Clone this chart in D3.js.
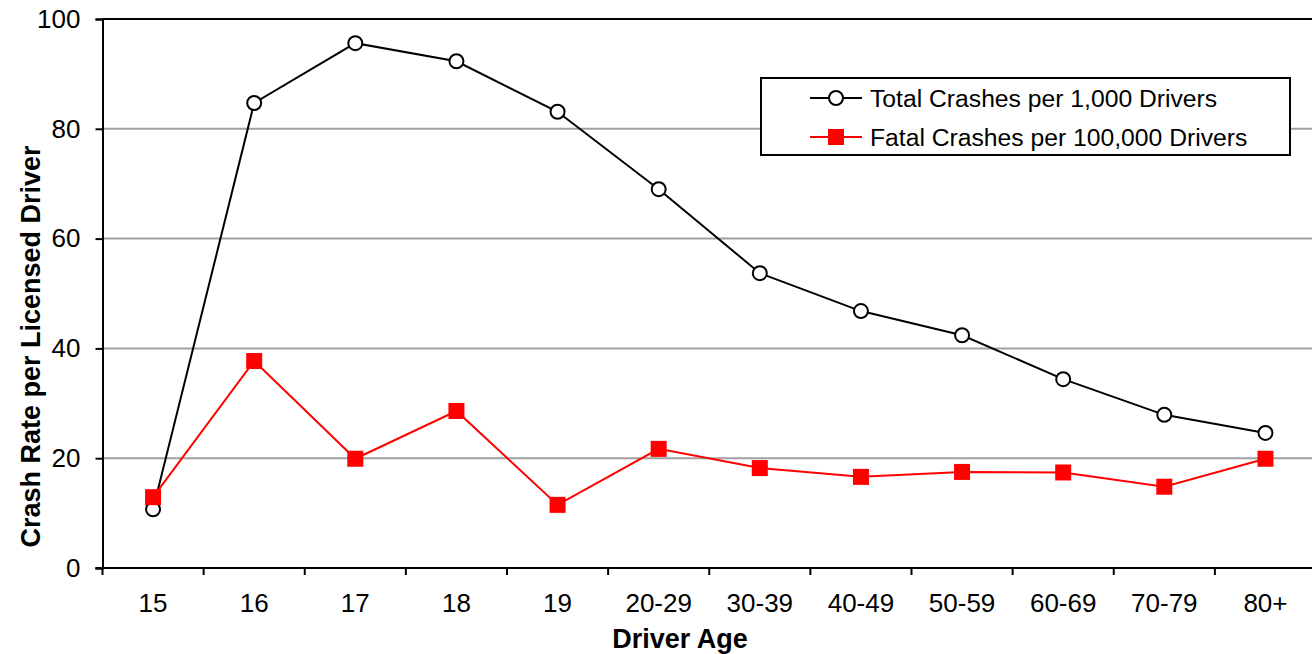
<!DOCTYPE html>
<html lang="en">
<head>
    <meta charset="UTF-8">
    <script src="https://d3js.org/d3.v7.min.js"></script>
    <style>
        body {
            margin: 0;
            padding: 0;
            background-color: #ffffff;
            font-family: 'Liberation Sans', Arial, sans-serif;
        }
        svg {
            display: block;
        }
        .tick-label {
            font-size: 26px;
            fill: #000000;
        }
        .axis-title {
            font-size: 27px;
            font-weight: bold;
            fill: #000000;
        }
        .legend-text {
            font-size: 24.7px;
            fill: #000000;
        }
    </style>
</head>
<body>
    <svg id="chart"></svg>

    <script>
        // Data for the chart
        const ages = ["15", "16", "17", "18", "19", "20-29", "30-39", "40-49", "50-59", "60-69", "70-79", "80+"];
        const totalCrashes = [10.7, 84.7, 95.6, 92.3, 83.1, 69.0, 53.7, 46.8, 42.4, 34.4, 27.9, 24.6];
        const fatalCrashes = [12.9, 37.7, 19.9, 28.6, 11.5, 21.7, 18.2, 16.6, 17.5, 17.4, 14.8, 19.9];
        const yTicks = [0, 20, 40, 60, 80, 100];
        const seriesNames = ["Total Crashes per 1,000 Drivers", "Fatal Crashes per 100,000 Drivers"];

        const width = 1312;
        const height = 654;
        const margin = { top: 19, right: -4, bottom: 86, left: 102.5 };

        const svg = d3.select("#chart")
            .attr("width", width)
            .attr("height", height);

        const x = d3.scaleBand()
            .domain(ages)
            .range([margin.left, width - margin.right])
            .padding(0);

        const y = d3.scaleLinear()
            .domain([0, 100])
            .range([height - margin.bottom, margin.top]);

        // Gridlines
        svg.append("g")
            .selectAll("line")
            .data(yTicks.filter(d => d > 0 && d < 100))
            .enter()
            .append("line")
            .attr("x1", margin.left)
            .attr("x2", width)
            .attr("y1", d => y(d))
            .attr("y2", d => y(d))
            .attr("stroke", "#a0a0a0")
            .attr("stroke-width", 2);

        // Top border
        svg.append("line")
            .attr("x1", margin.left)
            .attr("x2", width)
            .attr("y1", y(100))
            .attr("y2", y(100))
            .attr("stroke", "#000")
            .attr("stroke-width", 2);

        // Y axis
        const yAxis = d3.axisLeft(y).tickValues(yTicks).tickSize(7).tickPadding(15);
        const gy = svg.append("g")
            .attr("transform", `translate(${margin.left},0)`)
            .call(yAxis);
        gy.attr("font-family", null).attr("font-size", null);
        gy.select(".domain").attr("stroke", "#000").attr("stroke-width", 2);
        gy.selectAll(".tick line").attr("stroke", "#000").attr("stroke-width", 2);
        gy.selectAll(".tick text").attr("class", "tick-label");

        // X axis (ticks at category boundaries)
        const gx = svg.append("g")
            .attr("transform", `translate(0,${y(0)})`);
        gx.append("line")
            .attr("x1", margin.left - 7)
            .attr("x2", width)
            .attr("stroke", "#000")
            .attr("stroke-width", 2);
        gx.selectAll(".xtick")
            .data(ages)
            .enter()
            .append("line")
            .attr("x1", d => x(d))
            .attr("x2", d => x(d))
            .attr("y1", 0)
            .attr("y2", 7)
            .attr("stroke", "#000")
            .attr("stroke-width", 2);
        gx.selectAll(".xlabel")
            .data(ages)
            .enter()
            .append("text")
            .attr("class", "tick-label")
            .attr("x", d => x(d) + x.bandwidth() / 2)
            .attr("y", 44)
            .attr("text-anchor", "middle")
            .text(d => d);

        // Axis titles
        svg.append("text")
            .attr("class", "axis-title")
            .attr("x", 680)
            .attr("y", 648)
            .attr("text-anchor", "middle")
            .text("Driver Age");

        svg.append("text")
            .attr("class", "axis-title")
            .attr("transform", `translate(40,${(y(0) + y(100)) / 2 + 53}) rotate(-90)`)
            .attr("text-anchor", "middle")
            .text("Crash Rate per Licensed Driver");

        const cx = d => x(d) + x.bandwidth() / 2;

        const line = (vals) => d3.line()
            .x((d, i) => cx(ages[i]))
            .y(d => y(d))(vals);

        // Total crashes series
        svg.append("path")
            .attr("d", line(totalCrashes))
            .attr("fill", "none")
            .attr("stroke", "#000")
            .attr("stroke-width", 2);
        svg.selectAll(".total-pt")
            .data(totalCrashes)
            .enter()
            .append("circle")
            .attr("cx", (d, i) => cx(ages[i]))
            .attr("cy", d => y(d))
            .attr("r", 7)
            .attr("fill", "#fff")
            .attr("stroke", "#000")
            .attr("stroke-width", 2);

        // Fatal crashes series
        svg.append("path")
            .attr("d", line(fatalCrashes))
            .attr("fill", "none")
            .attr("stroke", "#ff0000")
            .attr("stroke-width", 2);
        svg.selectAll(".fatal-pt")
            .data(fatalCrashes)
            .enter()
            .append("rect")
            .attr("x", (d, i) => cx(ages[i]) - 8)
            .attr("y", d => y(d) - 8)
            .attr("width", 16)
            .attr("height", 16)
            .attr("fill", "#ff0000");

        // Legend
        const legend = svg.append("g");
        legend.append("rect")
            .attr("x", 761)
            .attr("y", 78)
            .attr("width", 529)
            .attr("height", 77)
            .attr("fill", "#fff")
            .attr("stroke", "#000")
            .attr("stroke-width", 2);

        const rows = [98, 137];
        rows.forEach((ry, i) => {
            const color = i === 0 ? "#000" : "#ff0000";
            legend.append("line")
                .attr("x1", 810).attr("x2", 862)
                .attr("y1", ry).attr("y2", ry)
                .attr("stroke", color)
                .attr("stroke-width", 2);
            if (i === 0) {
                legend.append("circle")
                    .attr("cx", 836).attr("cy", ry).attr("r", 7)
                    .attr("fill", "#fff").attr("stroke", "#000").attr("stroke-width", 2);
            } else {
                legend.append("rect")
                    .attr("x", 828).attr("y", ry - 8)
                    .attr("width", 16).attr("height", 16)
                    .attr("fill", "#ff0000");
            }
            legend.append("text")
                .attr("class", "legend-text")
                .attr("x", 870)
                .attr("y", ry + 9)
                .text(seriesNames[i]);
        });
    </script>
</body>
</html>
